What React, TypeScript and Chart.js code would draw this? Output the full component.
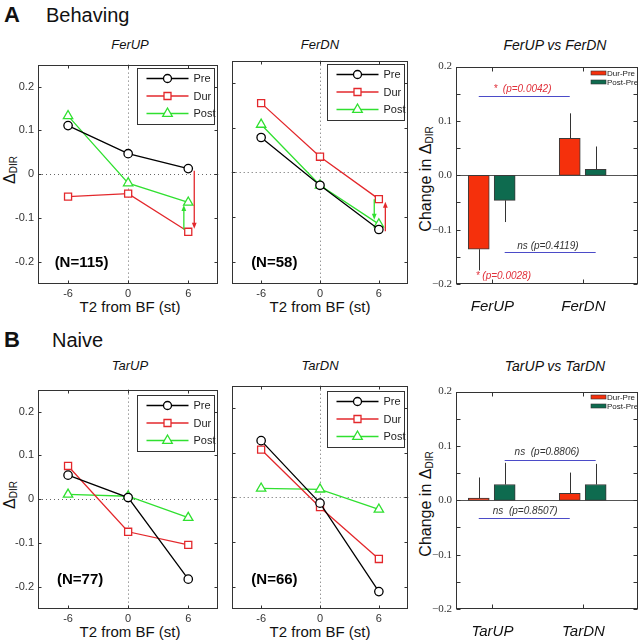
import React, { useEffect, useRef } from 'react';
import { Chart, registerables } from 'chart.js';

Chart.register(...registerables);

// ---------- DATA ----------
const xPositions = [-6, 0, 6];
const seriesLabels = ['Pre', 'Dur', 'Post'];

const ferUpPre = [0.111, 0.047, 0.013];
const ferUpDur = [-0.051, -0.044, -0.131];
const ferUpPost = [0.133, -0.020, -0.064];
const ferDnPre = [0.078, -0.029, -0.128];
const ferDnDur = [0.155, 0.035, -0.060];
const ferDnPost = [0.107, -0.029, -0.116];

const tarUpPre = [0.055, 0.004, -0.182];
const tarUpDur = [0.076, -0.074, -0.104];
const tarUpPost = [0.011, 0.007, -0.042];
const tarDnPre = [0.127, -0.013, -0.211];
const tarDnDur = [0.107, -0.022, -0.138];
const tarDnPost = [0.020, 0.018, -0.027];

// arrows: x position, start value, end value, series index for colour
const ferUpArrows = [
  { x: 6.6, from: 0.008, to: -0.124, s: 1 },
  { x: 5.56, from: -0.126, to: -0.070, s: 2 },
];
const ferDnArrows = [
  { x: 5.53, from: -0.060, to: -0.106, s: 2 },
  { x: 6.66, from: -0.132, to: -0.066, s: 1 },
];

const lineYTicks = [-0.2, -0.1, 0, 0.1, 0.2];
const lineXTicks = [-6, 0, 6];

const barCategoriesA = ['FerUP', 'FerDN'];
const barCategoriesB = ['TarUP', 'TarDN'];
const barSeriesLabels = ['Dur-Pre', 'Post-Pre'];
const durPreA = [-0.136, 0.068];
const durPreAErr = [0.039, 0.046];
const postPreA = [-0.046, 0.011];
const postPreAErr = [0.040, 0.042];
const durPreB = [0.004, 0.013];
const durPreBErr = [0.038, 0.038];
const postPreB = [0.029, 0.029];
const postPreBErr = [0.040, 0.038];
const barYTicks = [-0.2, -0.1, 0, 0.1, 0.2];
const barYMinorTicks = [-0.15, -0.05, 0.05, 0.15];

// ---------- STYLE ----------
const SANS = "'Liberation Sans', Arial, Helvetica, sans-serif";
const SERIF = "'Liberation Serif', 'Times New Roman', serif";
const lineColors = ['#000000', '#E3282C', '#30E030'];
const pointStyles = ['circle', 'rect', 'triangle'];
const pointRadii = [4.2, 5, 5.4];
const BAR_RED = '#F5300C';
const BAR_GREEN = '#0E6B4F';
const SIG_BLUE = '#4B4BC8';
const P_RED = '#E0303A';
const BAR_OFFSETS = [-0.15, 0.135];

type Box = { left: number; top: number; width: number; height: number };
type Margin = { l: number; t: number; r: number; b: number };

function seg(ctx: CanvasRenderingContext2D, x1: number, y1: number, x2: number, y2: number) {
  ctx.beginPath();
  ctx.moveTo(x1, y1);
  ctx.lineTo(x2, y2);
  ctx.stroke();
}

function drawBoxTicks(ctx: CanvasRenderingContext2D, a: any, xs: number[], ys: number[], xScale: any, yScale: any, len: number) {
  ctx.save();
  ctx.strokeStyle = '#333';
  ctx.lineWidth = 1;
  ctx.setLineDash([]);
  const L = Math.round(a.left) + 0.5, R = Math.round(a.right) - 0.5;
  const T = Math.round(a.top) + 0.5, B = Math.round(a.bottom) - 0.5;
  ctx.strokeRect(L, T, R - L, B - T);
  xs.forEach((v) => {
    const px = Math.round(xScale.getPixelForValue(v)) + 0.5;
    seg(ctx, px, T, px, T + len);
    seg(ctx, px, B, px, B - len);
  });
  ys.forEach((v) => {
    const py = Math.round(yScale.getPixelForValue(v)) + 0.5;
    seg(ctx, L, py, L + len, py);
    seg(ctx, R, py, R - len, py);
  });
  ctx.restore();
}

function drawMarker(ctx: CanvasRenderingContext2D, style: string, x: number, y: number, color: string) {
  ctx.save();
  ctx.fillStyle = '#fff';
  ctx.strokeStyle = color;
  ctx.lineWidth = 1.3;
  ctx.beginPath();
  if (style === 'circle') ctx.arc(x, y, 4, 0, Math.PI * 2);
  else if (style === 'rect') ctx.rect(x - 3.5, y - 3.5, 7, 7);
  else {
    ctx.moveTo(x, y - 5.5);
    ctx.lineTo(x + 4.8, y + 2.8);
    ctx.lineTo(x - 4.8, y + 2.8);
    ctx.closePath();
  }
  ctx.fill();
  ctx.stroke();
  ctx.restore();
}

type LineProps = {
  canvas: Box;
  m: Margin;
  showY: boolean;
  series: number[][];
  arrows: { x: number; from: number; to: number; s: number }[];
  nText: string;
  nPos: { x: number; y: number };
  legendInset: number;
};

function LinePanel(p: LineProps) {
  const ref = useRef<HTMLCanvasElement>(null);
  useEffect(() => {
    const decor = {
      id: 'lineDecor',
      beforeDatasetsDraw(chart: any) {
        const { ctx, chartArea: a, scales } = chart;
        ctx.save();
        ctx.strokeStyle = '#666';
        ctx.lineWidth = 1;
        ctx.setLineDash([1, 3]);
        const x0 = Math.round(scales.x.getPixelForValue(0)) + 0.5;
        const y0 = Math.round(scales.y.getPixelForValue(0)) + 0.5;
        seg(ctx, x0, a.top, x0, a.bottom);
        seg(ctx, a.left, y0, a.right, y0);
        ctx.restore();
      },
      afterDatasetsDraw(chart: any) {
        const { ctx, chartArea: a, scales } = chart;
        const xs = scales.x, ys = scales.y;
        // arrows
        p.arrows.forEach((ar) => {
          const c = lineColors[ar.s];
          const x = xs.getPixelForValue(ar.x);
          const y1 = ys.getPixelForValue(ar.from);
          const y2 = ys.getPixelForValue(ar.to);
          const dir = Math.sign(y2 - y1);
          ctx.save();
          ctx.strokeStyle = c;
          ctx.fillStyle = c;
          ctx.lineWidth = 1.3;
          seg(ctx, x, y1, x, y2 - dir * 4);
          ctx.beginPath();
          ctx.moveTo(x, y2);
          ctx.lineTo(x - 2.4, y2 - dir * 6);
          ctx.lineTo(x + 2.4, y2 - dir * 6);
          ctx.closePath();
          ctx.fill();
          ctx.restore();
        });
        // N label
        ctx.save();
        ctx.fillStyle = '#000';
        ctx.font = `bold 15px ${SANS}`;
        ctx.textAlign = 'left';
        ctx.textBaseline = 'middle';
        ctx.fillText(p.nText, xs.getPixelForValue(p.nPos.x), ys.getPixelForValue(p.nPos.y));
        ctx.restore();
        // legend
        const lw = 77, lh = 56;
        const lx = Math.round(a.right) - 4 - lw + 0.5;
        const ly = Math.round(a.top) + p.legendInset + 0.5;
        ctx.save();
        ctx.fillStyle = '#fff';
        ctx.strokeStyle = '#333';
        ctx.lineWidth = 1;
        ctx.fillRect(lx, ly, lw, lh);
        ctx.strokeRect(lx, ly, lw, lh);
        ctx.font = `11px ${SANS}`;
        ctx.textBaseline = 'middle';
        ctx.textAlign = 'left';
        seriesLabels.forEach((lab, i) => {
          const ry = ly + 10 + i * 17.5;
          ctx.strokeStyle = lineColors[i];
          ctx.lineWidth = 1.3;
          seg(ctx, lx + 9, ry, lx + 51, ry);
          drawMarker(ctx, pointStyles[i], lx + 30, ry, lineColors[i]);
          ctx.fillStyle = '#222';
          ctx.fillText(lab, lx + 56, ry + 0.5);
        });
        ctx.restore();
        drawBoxTicks(ctx, a, lineXTicks, lineYTicks, xs, ys, 3);
      },
    };

    const datasets = seriesLabels.map((lab, i) => ({
      label: lab,
      data: xPositions.map((x, j) => ({ x, y: p.series[i][j] })),
      borderColor: lineColors[i],
      backgroundColor: '#fff',
      pointBackgroundColor: '#fff',
      pointBorderColor: lineColors[i],
      pointStyle: pointStyles[i],
      pointRadius: pointRadii[i],
      pointBorderWidth: 1.3,
      borderWidth: 1.3,
      tension: 0,
      fill: false,
    }));

    const chart = new Chart(ref.current as HTMLCanvasElement, {
      type: 'line',
      data: { datasets } as any,
      plugins: [decor as any],
      options: {
        responsive: false,
        animation: false,
        layout: { padding: { left: 0, top: p.m.t, right: p.m.r, bottom: 0 } },
        plugins: { legend: { display: false }, tooltip: { enabled: false } },
        scales: {
          x: {
            type: 'linear',
            min: -9,
            max: 9,
            grid: { display: false, drawTicks: false },
            border: { display: false },
            ticks: {
              font: { family: SANS, size: 11 },
              color: '#333',
              padding: 3,
              maxRotation: 0,
              autoSkip: false,
              callback: (v: any) => String(v),
            },
            afterBuildTicks: (s: any) => {
              s.ticks = lineXTicks.map((v) => ({ value: v }));
            },
            afterFit: (s: any) => {
              s.height = p.m.b;
            },
          },
          y: {
            type: 'linear',
            min: -0.25,
            max: 0.25,
            grid: { display: false, drawTicks: false },
            border: { display: false },
            ticks: {
              display: p.showY,
              font: { family: SANS, size: 11 },
              color: '#333',
              padding: 4,
              autoSkip: false,
              callback: (v: any) => (Math.abs(v) < 1e-9 ? '0' : Number(v).toFixed(1)),
            },
            afterBuildTicks: (s: any) => {
              s.ticks = lineYTicks.map((v) => ({ value: v }));
            },
            afterFit: (s: any) => {
              s.width = p.m.l;
            },
          },
        },
      } as any,
    });
    return () => chart.destroy();
  }, []);
  const c = p.canvas;
  return (
    <canvas
      ref={ref}
      width={c.width}
      height={c.height}
      style={{ position: 'absolute', left: c.left, top: c.top, width: c.width, height: c.height }}
    />
  );
}

type BarProps = {
  canvas: Box;
  m: Margin;
  categories: string[];
  durPre: number[];
  durPreErr: number[];
  postPre: number[];
  postPreErr: number[];
  sigLines: { x1: number; x2: number; y: number }[];
  sigTexts: { text: string; x: number; y: number; color: string }[];
  legendInset: number;
};

function BarPanel(p: BarProps) {
  const ref = useRef<HTMLCanvasElement>(null);
  useEffect(() => {
    const values = [p.durPre, p.postPre];
    const errs = [p.durPreErr, p.postPreErr];
    const colors = [BAR_RED, BAR_GREEN];
    const decor = {
      id: 'barDecor',
      beforeDatasetsDraw(chart: any) {
        const { ctx, chartArea: a, scales } = chart;
        const y0 = Math.round(scales.y.getPixelForValue(0)) + 0.5;
        ctx.save();
        ctx.strokeStyle = '#555';
        ctx.lineWidth = 1;
        seg(ctx, a.left, y0, a.right, y0);
        ctx.restore();
      },
      afterDatasetsDraw(chart: any) {
        const { ctx, chartArea: a, scales } = chart;
        const xs = scales.x, ys = scales.y;
        // error bars
        ctx.save();
        ctx.strokeStyle = '#333';
        ctx.lineWidth = 1;
        values.forEach((vals, di) => {
          const meta = chart.getDatasetMeta(di);
          vals.forEach((v, i) => {
            const el = meta.data[i];
            const x = Math.round(el.x) + 0.5;
            const sgn = v < 0 ? -1 : 1;
            seg(ctx, x, ys.getPixelForValue(v), x, ys.getPixelForValue(v + sgn * errs[di][i]));
          });
        });
        ctx.restore();
        // significance lines
        ctx.save();
        ctx.strokeStyle = SIG_BLUE;
        ctx.lineWidth = 1;
        p.sigLines.forEach((s) => {
          const y = Math.round(ys.getPixelForValue(s.y)) + 0.5;
          seg(ctx, xs.getPixelForValue(s.x1), y, xs.getPixelForValue(s.x2), y);
        });
        ctx.font = `italic 10px ${SANS}`;
        ctx.textAlign = 'center';
        ctx.textBaseline = 'middle';
        p.sigTexts.forEach((t) => {
          ctx.fillStyle = t.color;
          ctx.fillText(t.text, xs.getPixelForValue(t.x), ys.getPixelForValue(t.y));
        });
        ctx.restore();
        // legend
        ctx.save();
        ctx.font = `8px ${SANS}`;
        ctx.textAlign = 'left';
        ctx.textBaseline = 'middle';
        barSeriesLabels.forEach((lab, i) => {
          const ry = Math.round(a.top) + p.legendInset + i * 9;
          const sx = Math.round(a.right) - 47;
          ctx.fillStyle = colors[i];
          ctx.fillRect(sx, ry - 2, 15, 4);
          ctx.strokeStyle = '#333';
          ctx.lineWidth = 0.6;
          ctx.strokeRect(sx, ry - 2, 15, 4);
          ctx.fillStyle = '#222';
          ctx.fillText(lab, sx + 16, ry + 0.5);
        });
        ctx.restore();
        drawBoxTicks(ctx, a, [1, 2], barYTicks.concat(barYMinorTicks), xs, ys, 4);
      },
    };

    const datasets = barSeriesLabels.map((lab, di) => ({
      label: lab,
      data: p.categories.map((c, i) => ({ x: i + 1 + BAR_OFFSETS[di], y: values[di][i] })),
      backgroundColor: colors[di],
      borderColor: '#3a3a3a',
      borderWidth: 1,
      borderSkipped: false,
      barThickness: 21,
      grouped: false,
    }));

    const chart = new Chart(ref.current as HTMLCanvasElement, {
      type: 'bar',
      data: { datasets } as any,
      plugins: [decor as any],
      options: {
        responsive: false,
        animation: false,
        layout: { padding: { left: 0, top: p.m.t, right: p.m.r, bottom: 0 } },
        plugins: { legend: { display: false }, tooltip: { enabled: false } },
        scales: {
          x: {
            type: 'linear',
            min: 0.6,
            max: 2.6,
            offset: false,
            grid: { display: false, drawTicks: false },
            border: { display: false },
            ticks: {
              font: { family: SANS, size: 15, style: 'italic' },
              color: '#111',
              padding: 14,
              maxRotation: 0,
              autoSkip: false,
              callback: (v: any) => p.categories[Math.round(v) - 1] ?? '',
            },
            afterBuildTicks: (s: any) => {
              s.ticks = p.categories.map((c, i) => ({ value: i + 1 }));
            },
            afterFit: (s: any) => {
              s.height = p.m.b;
            },
          },
          y: {
            type: 'linear',
            min: -0.2,
            max: 0.2,
            grid: { display: false, drawTicks: false },
            border: { display: false },
            ticks: {
              font: { family: SERIF, size: 11 },
              color: '#333',
              padding: 4,
              autoSkip: false,
              callback: (v: any) => Number(v).toFixed(1).replace('-', '\u2212'),
            },
            afterBuildTicks: (s: any) => {
              s.ticks = barYTicks.map((v) => ({ value: v }));
            },
            afterFit: (s: any) => {
              s.width = p.m.l;
            },
          },
        },
      } as any,
    });
    return () => chart.destroy();
  }, []);
  const c = p.canvas;
  return (
    <canvas
      ref={ref}
      width={c.width}
      height={c.height}
      style={{ position: 'absolute', left: c.left, top: c.top, width: c.width, height: c.height }}
    />
  );
}

function Txt(props: { x: number; y: number; size: number; bold?: boolean; italic?: boolean; rotate?: boolean; children: any }) {
  return (
    <div
      style={{
        position: 'absolute',
        left: props.x,
        top: props.y,
        transform: `translate(-50%, -50%)${props.rotate ? ' rotate(-90deg)' : ''}`,
        fontFamily: SANS,
        fontSize: props.size,
        fontWeight: props.bold ? 'bold' : 'normal',
        fontStyle: props.italic ? 'italic' : 'normal',
        whiteSpace: 'nowrap',
        lineHeight: 1,
        color: '#111',
      }}
    >
      {props.children}
    </div>
  );
}

const Delta = (props: { sub: number }) => (
  <span>
    Δ<span style={{ fontSize: props.sub, position: 'relative', top: 2 }}>DIR</span>
  </span>
);

function Row(props: {
  top: number;
  letter: string;
  name: string;
  leftTitle: string;
  midTitle: string;
  barTitle: string;
  leftSeries: number[][];
  midSeries: number[][];
  leftArrows: any[];
  midArrows: any[];
  leftN: string;
  midN: string;
  leftNPos: { x: number; y: number };
  midNPos: { x: number; y: number };
  legendInset: number;
  bar: Omit<BarProps, 'canvas' | 'm' | 'legendInset'>;
  barTopShift: number;
  barLegendInset: number;
  titleShift: number;
}) {
  const t = props.top; // top of line plot box
  const boxH = 227;
  const lm: Margin = { l: 38, t: 3, r: 3, b: 22 };
  const mm: Margin = { l: 3, t: 3, r: 3, b: 22 };
  const bm: Margin = { l: 40, t: 3, r: 1, b: 36 };
  const barTop = t + props.barTopShift;
  const barH = t + boxH - barTop;
  return (
    <>
      <Txt x={12} y={t - 42} size={22} bold>
        {props.letter}
      </Txt>
      <div
        style={{
          position: 'absolute',
          left: props.letter === 'A' ? 46 : 52,
          top: t - 42,
          transform: 'translateY(-50%)',
          fontFamily: SANS,
          fontSize: 20,
          lineHeight: 1,
          color: '#111',
        }}
      >
        {props.name}
      </div>
      <Txt x={130} y={t - 13 + props.titleShift} size={13} italic>
        {props.leftTitle}
      </Txt>
      <Txt x={320} y={t - 13 + props.titleShift} size={13} italic>
        {props.midTitle}
      </Txt>
      <Txt x={555} y={t - 13 + props.titleShift + 1} size={14} italic>
        {props.barTitle}
      </Txt>
      <Txt x={10} y={t + 113} size={16} rotate>
        <Delta sub={10} />
      </Txt>
      <Txt x={426} y={t + 122} size={16} rotate>
        Change in <Delta sub={10} />
      </Txt>
      <Txt x={130} y={t + boxH + 22} size={15}>
        T2 from BF (st)
      </Txt>
      <Txt x={320} y={t + boxH + 22} size={15}>
        T2 from BF (st)
      </Txt>
      <LinePanel
        canvas={{ left: 0, top: t - lm.t, width: 225, height: boxH + lm.t + lm.b }}
        m={lm}
        showY={true}
        series={props.leftSeries}
        arrows={props.leftArrows}
        nText={props.leftN}
        nPos={props.leftNPos}
        legendInset={props.legendInset}
      />
      <LinePanel
        canvas={{ left: 225, top: t - mm.t, width: 190, height: boxH + mm.t + mm.b }}
        m={mm}
        showY={false}
        series={props.midSeries}
        arrows={props.midArrows}
        nText={props.midN}
        nPos={props.midNPos}
        legendInset={props.legendInset}
      />
      <BarPanel
        canvas={{ left: 416, top: barTop - bm.t, width: 223, height: barH + bm.t + bm.b }}
        m={bm}
        legendInset={props.barLegendInset}
        {...props.bar}
      />
    </>
  );
}

export default function App() {
  return (
    <div style={{ position: 'fixed', left: 0, top: 0, width: 639, height: 640, background: '#fff', overflow: 'hidden' }}>
      <Row
        top={57}
        letter="A"
        name="Behaving"
        leftTitle="FerUP"
        midTitle="FerDN"
        barTitle="FerUP vs FerDN"
        leftSeries={[ferUpPre, ferUpDur, ferUpPost]}
        midSeries={[ferDnPre, ferDnDur, ferDnPost]}
        leftArrows={ferUpArrows}
        midArrows={ferDnArrows}
        leftN="(N=115)"
        midN="(N=58)"
        leftNPos={{ x: -7.34, y: -0.202 }}
        midNPos={{ x: -7.02, y: -0.202 }}
        legendInset={3}
        barTopShift={2}
        barLegendInset={6}
        titleShift={0}
        bar={{
          categories: barCategoriesA,
          durPre: durPreA,
          durPreErr: durPreAErr,
          postPre: postPreA,
          postPreErr: postPreAErr,
          sigLines: [
            { x1: 0.85, x2: 1.85, y: 0.145 },
            { x1: 1.135, x2: 2.135, y: -0.141 },
          ],
          sigTexts: [
            { text: '*  (p=0.0042)', x: 1.33, y: 0.159, color: P_RED },
            { text: 'ns (p=0.4119)', x: 1.61, y: -0.130, color: '#333' },
            { text: '* (p=0.0028)', x: 1.12, y: -0.186, color: P_RED },
          ],
        }}
      />
      <Row
        top={382}
        letter="B"
        name="Naive"
        leftTitle="TarUP"
        midTitle="TarDN"
        barTitle="TarUP vs TarDN"
        leftSeries={[tarUpPre, tarUpDur, tarUpPost]}
        midSeries={[tarDnPre, tarDnDur, tarDnPost]}
        leftArrows={[]}
        midArrows={[]}
        leftN="(N=77)"
        midN="(N=66)"
        leftNPos={{ x: -7.1, y: -0.184 }}
        midNPos={{ x: -7.0, y: -0.184 }}
        legendInset={5}
        barTopShift={2}
        barLegendInset={5}
        titleShift={-4}
        bar={{
          categories: barCategoriesB,
          durPre: durPreB,
          durPreErr: durPreBErr,
          postPre: postPreB,
          postPreErr: postPreBErr,
          sigLines: [
            { x1: 1.135, x2: 2.135, y: 0.075 },
            { x1: 0.85, x2: 1.85, y: -0.032 },
          ],
          sigTexts: [
            { text: 'ns  (p=0.8806)', x: 1.6, y: 0.088, color: '#333' },
            { text: 'ns  (p=0.8507)', x: 1.36, y: -0.02, color: '#333' },
          ],
        }}
      />
    </div>
  );
}
